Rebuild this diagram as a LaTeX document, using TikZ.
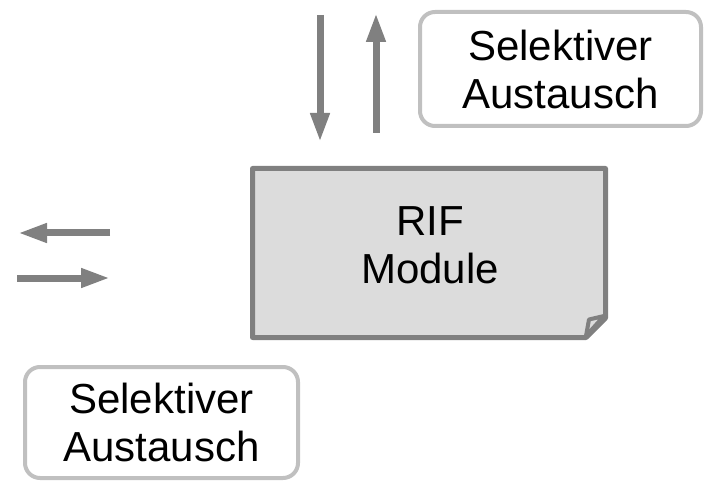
\documentclass[tikz,border=0pt]{standalone}
\usepackage{fontspec}
\setmainfont{Liberation Sans}
\usetikzlibrary{arrows.meta}
\definecolor{arrgray}{HTML}{808080}
\definecolor{boxfill}{HTML}{DCDCDC}
\definecolor{lightline}{HTML}{C0C0C0}
\tikzset{
  bigtext/.style={font=\fontsize{42}{48}\selectfont, align=center},
  flowarrow/.style={draw=arrgray, line width=7pt, -{Triangle[length=29pt,width=18pt]}},
  selbox/.style={draw=lightline, line width=4pt, rounded corners=15pt, fill=white, bigtext, inner sep=0pt},
}
\begin{document}
\begin{tikzpicture}[x=1pt,y=-1pt]
\useasboundingbox (0,0) rectangle (707,481);
% RIF module box with folded corner
\draw[draw=arrgray, fill=boxfill, line width=5pt, line join=round]
  (252.5,168.5) -- (605.5,168.5) -- (605.5,318) -- (586,337.5) -- (252.5,337.5) -- cycle;
\draw[draw=arrgray, fill=boxfill, line width=4pt, line join=round]
  (604,316) -- (589,319.5) -- (586,336) -- cycle;
\node[bigtext] (rif) at (430,245) {RIF\\Module};
% selective exchange boxes
\node[selbox, minimum width=281pt, minimum height=114pt] (sel1) at (560.5,69) {Selektiver\\Austausch};
\node[selbox, minimum width=273pt, minimum height=111pt] (sel2) at (161.5,422.5) {Selektiver\\Austausch};
% arrows
\coordinate (d1) at (320,15);
\coordinate (d2) at (320,142);
\coordinate (u1) at (376,133);
\coordinate (u2) at (376,13);
\coordinate (l1) at (110,233);
\coordinate (l2) at (18,233);
\coordinate (r1) at (17,278);
\coordinate (r2) at (110,278);
\draw[flowarrow] (d1) -- (d2);
\draw[flowarrow] (u1) -- (u2);
\draw[flowarrow] (l1) -- (l2);
\draw[flowarrow] (r1) -- (r2);
\end{tikzpicture}
\end{document}
